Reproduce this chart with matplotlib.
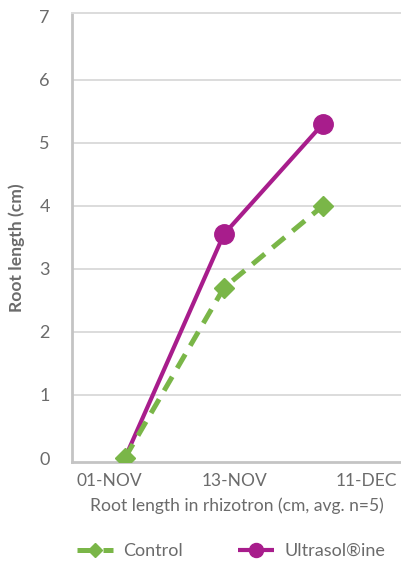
import matplotlib
matplotlib.use("Agg")
import matplotlib.pyplot as plt

# Root length measured in the rhizotron (cm, average of n=5)
dates = ["01-NOV", "13-NOV", "11-DEC"]
control = [0.0, 2.7, 4.0]
ultrasol = [0.0, 3.55, 5.3]

GREEN = "#7ab648"
MAGENTA = "#a81d8c"
TEXT = "#6b6b6b"
GRID = "#dcdcdc"
AXIS = "#c4c4c4"

plt.rcParams["font.family"] = ["Lato", "DejaVu Sans"]

fig = plt.figure(figsize=(4.01, 5.62), dpi=100)
ax = fig.add_axes([72 / 401, 1 - 462 / 562, 1 - 72 / 401, (462 - 13) / 562])

x = list(range(len(dates)))
l_ultra, = ax.plot(x, ultrasol, color=MAGENTA, lw=3.0, marker="o", ms=14,
                   markevery=[1, 2], solid_capstyle="butt", zorder=3,
                   label="Ultrasol\u00aeine")
l_ctrl, = ax.plot(x, control, color=GREEN, lw=3.6, ls=(0, (3.2, 2.0)),
                  marker="D", ms=10.5, zorder=4, label="Control")

ax.set_xlim(-0.535, 2.79)
ax.set_ylim(-0.063, 7.06)

# date labels sit slightly off the measurement positions
ax.set_xticks([-0.16, 1.11, 2.44])
ax.set_xticklabels(dates)
ax.set_yticks(range(0, 8))
ax.tick_params(axis="both", length=0, colors=TEXT)
ax.tick_params(axis="x", labelsize=12.5, pad=8)
ax.tick_params(axis="y", labelsize=13, pad=16)

ax.grid(axis="y", color=GRID, lw=1.4)
ax.set_axisbelow(True)
for gl, v in zip(ax.get_ygridlines(), range(0, 8)):
    if v in (0, 7):
        gl.set_visible(False)

ax.spines["right"].set_visible(False)
ax.spines["top"].set_color(GRID)
ax.spines["top"].set_linewidth(1.4)
for s in ("left", "bottom"):
    ax.spines[s].set_color(AXIS)
    ax.spines[s].set_linewidth(2.0)

ax.set_xlabel("Root length in rhizotron (cm, avg. n=5)", fontsize=12.6,
              color=TEXT, labelpad=6)
ax.set_ylabel("Root length (cm)", fontsize=12.6, color=TEXT,
              fontweight="bold")
ax.yaxis.set_label_coords((25 - 72) / 329, (462 - 248) / 449)

fig.legend(handles=[l_ctrl, l_ultra], loc="center", ncol=2,
           bbox_to_anchor=(231 / 401, 1 - 551 / 562), frameon=False,
           fontsize=13, labelcolor=TEXT, handlelength=2.0, markerscale=0.72,
           handletextpad=0.6, columnspacing=3.0)

fig.savefig("out.png", dpi=100)
